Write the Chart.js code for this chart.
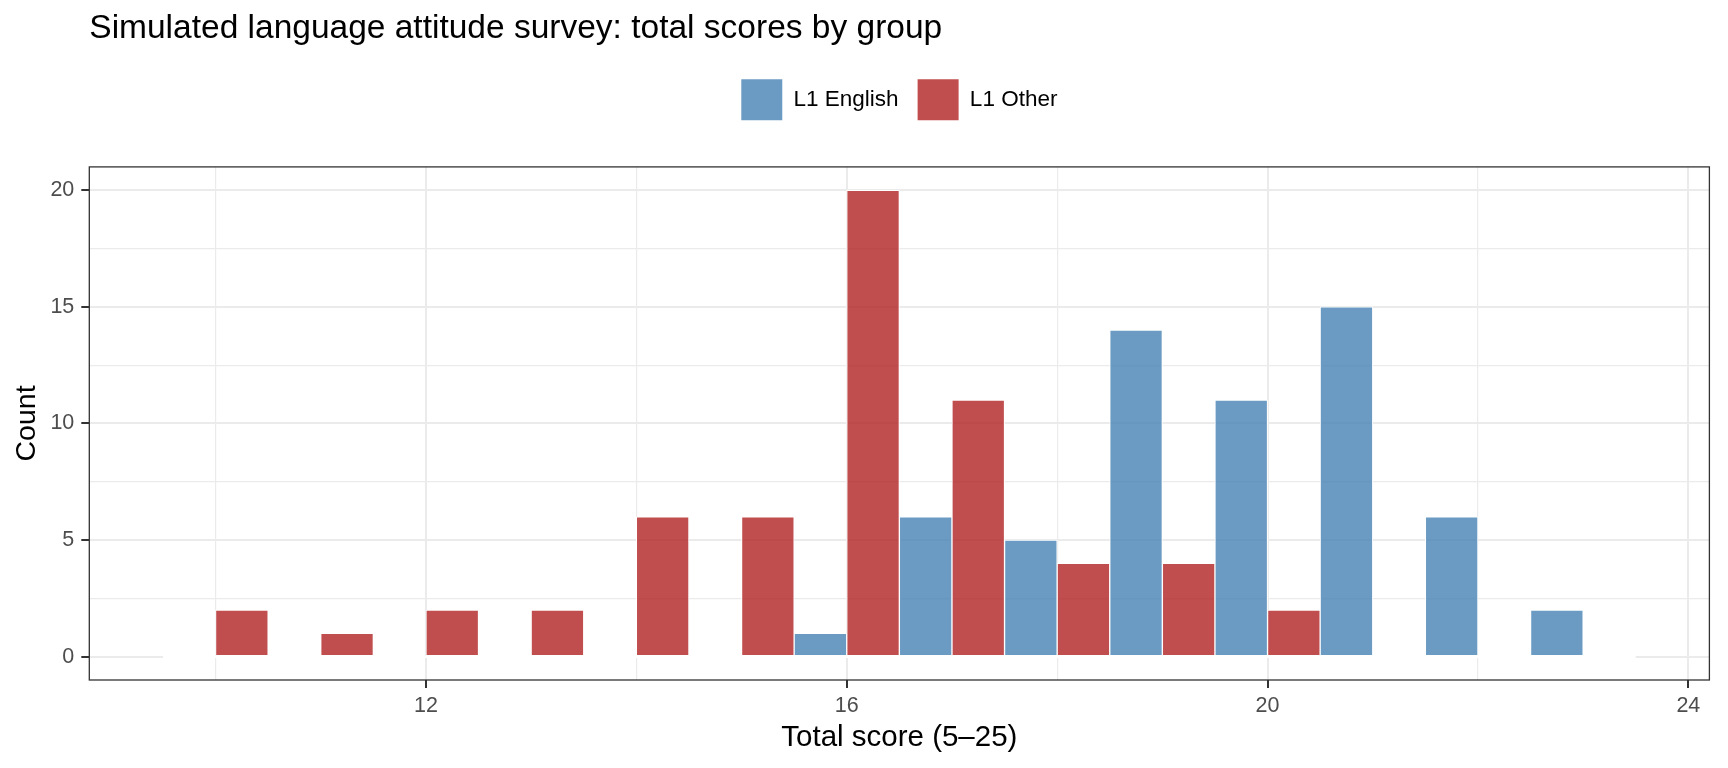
<!DOCTYPE html>
<html>
<head>
<meta charset="utf-8">
<title>Language attitude survey</title>
<script src="https://cdn.jsdelivr.net/npm/chart.js@4.4.0/dist/chart.umd.min.js"></script>
<style>
  html, body { margin: 0; padding: 0; background: #fff; }
  #chart { display: block; }
</style>
</head>
<body>
<canvas id="chart" width="1728" height="768"></canvas>
<script>
// histogram bins (binwidth 1, centred on whole scores)
const scores = [10, 11, 12, 13, 14, 15, 16, 17, 18, 19, 20, 21, 22, 23];
const englishCounts = [0, 0, 0, 0, 0, 0, 1, 6, 5, 14, 11, 15, 6, 2];
const otherCounts = [2, 1, 2, 2, 6, 6, 20, 11, 4, 4, 2, 0, 0, 0];
const seriesLabels = ['L1 English', 'L1 Other'];

const xTicks = [12, 16, 20, 24];
const xMinorTicks = [10, 14, 18, 22];
const yTicks = [0, 5, 10, 15, 20];
const yMinorTicks = [2.5, 7.5, 12.5, 17.5];

const binWidth = 1;
const lowEdge = scores[0] - binWidth / 2;
const highEdge = scores[scores.length - 1] + binWidth / 2;
const xPad = (highEdge - lowEdge) * 0.05;
const yTop = Math.max(...englishCounts, ...otherCounts);
const yPad = yTop * 0.05;

const GRID = '#EBEBEB';
const TICK = '#333333';
const isIn = (arr, v) => arr.some(t => Math.abs(t - v) < 1e-9);
const toPoints = counts => scores.map((s, i) => ({x: s, y: counts[i]}));
const allTicks = (a, b) => [...a, ...b].sort((p, q) => p - q).map(v => ({value: v}));

Chart.defaults.font.family = "'Liberation Sans', Arial, sans-serif";

// frame round the plotting panel, drawn over the bars
const panelBorder = {
  id: 'panelBorder',
  afterDatasetsDraw(chart) {
    const {ctx, chartArea: a} = chart;
    ctx.save();
    ctx.strokeStyle = TICK;
    ctx.lineWidth = 1.3;
    ctx.strokeRect(a.left, a.top, a.right - a.left, a.bottom - a.top);
    ctx.restore();
  }
};

// more space between legend and panel
const legendGap = {
  id: 'legendGap',
  beforeInit(chart) {
    const fit = chart.legend.fit;
    chart.legend.fit = function() {
      fit.bind(chart.legend)();
      this.height += 36.7;
    };
  }
};

const barStyle = {
  borderColor: '#FFFFFF',
  borderWidth: 1,
  borderSkipped: false,
  categoryPercentage: 1,
  barPercentage: 1
};

new Chart(document.getElementById('chart'), {
  type: 'bar',
  data: {
    datasets: [
      Object.assign({label: seriesLabels[0], data: toPoints(englishCounts), backgroundColor: 'rgba(70,130,180,0.8)'}, barStyle),
      Object.assign({label: seriesLabels[1], data: toPoints(otherCounts), backgroundColor: 'rgba(178,34,34,0.8)'}, barStyle),
      // zero-height bins: white outline along the baseline
      {type: 'line', label: 'baseline', data: [{x: lowEdge, y: 0}, {x: highEdge, y: 0}],
       borderColor: '#FFFFFF', borderWidth: 2.5, pointRadius: 0, fill: false}
    ]
  },
  options: {
    responsive: false,
    animation: false,
    devicePixelRatio: 1,
    layout: {padding: {left: 0, right: 18.6, top: 0, bottom: 0}},
    plugins: {
      title: {
        display: true,
        text: 'Simulated language attitude survey: total scores by group',
        align: 'start',
        fullSize: false,
        color: '#000000',
        font: {size: 33.5, weight: 'normal'},
        padding: {top: 9, bottom: 11}
      },
      legend: {
        position: 'top',
        fullSize: false,
        labels: {
          boxWidth: 41,
          boxHeight: 41,
          padding: 19,
          color: '#000000',
          font: {size: 22.5},
          filter: item => item.datasetIndex < 2,
          generateLabels: chart => Chart.defaults.plugins.legend.labels.generateLabels(chart)
            .map(l => Object.assign(l, {lineWidth: 0}))
        }
      },
      tooltip: {enabled: false}
    },
    scales: {
      x: {
        type: 'linear',
        min: lowEdge - xPad,
        max: highEdge + xPad,
        offset: false,
        afterBuildTicks: s => { s.ticks = allTicks(xTicks, xMinorTicks); },
        afterFit: s => { s.height = 88; },
        border: {display: false},
        grid: {
          offset: false,
          color: GRID,
          lineWidth: c => (c.tick && isIn(xTicks, c.tick.value)) ? 2 : 1.2,
          tickLength: 8,
          tickWidth: 2,
          tickColor: c => (c.tick && isIn(xTicks, c.tick.value)) ? TICK : 'rgba(0,0,0,0)'
        },
        ticks: {
          autoSkip: false,
          maxRotation: 0,
          padding: 5,
          color: '#4D4D4D',
          font: {size: 21.5},
          callback: v => isIn(xTicks, v) ? String(v) : ''
        },
        title: {
          display: true,
          text: 'Total score (5–25)',
          color: '#000000',
          font: {size: 29.5},
          padding: {top: 0, bottom: 12}
        }
      },
      y: {
        min: -yPad,
        max: yTop + yPad,
        afterBuildTicks: s => { s.ticks = allTicks(yTicks, yMinorTicks); },
        afterFit: s => { s.width = 89.3; },
        border: {display: false},
        grid: {
          color: GRID,
          lineWidth: c => (c.tick && isIn(yTicks, c.tick.value)) ? 2 : 1.2,
          tickLength: 8,
          tickWidth: 2,
          tickColor: c => (c.tick && isIn(yTicks, c.tick.value)) ? TICK : 'rgba(0,0,0,0)'
        },
        ticks: {
          autoSkip: false,
          padding: 7,
          color: '#4D4D4D',
          font: {size: 21.5},
          callback: v => isIn(yTicks, v) ? String(v) : ''
        },
        title: {
          display: true,
          text: 'Count',
          color: '#000000',
          font: {size: 28.5},
          padding: {top: 10, bottom: 0}
        }
      }
    }
  },
  plugins: [legendGap, panelBorder]
});
</script>
</body>
</html>
